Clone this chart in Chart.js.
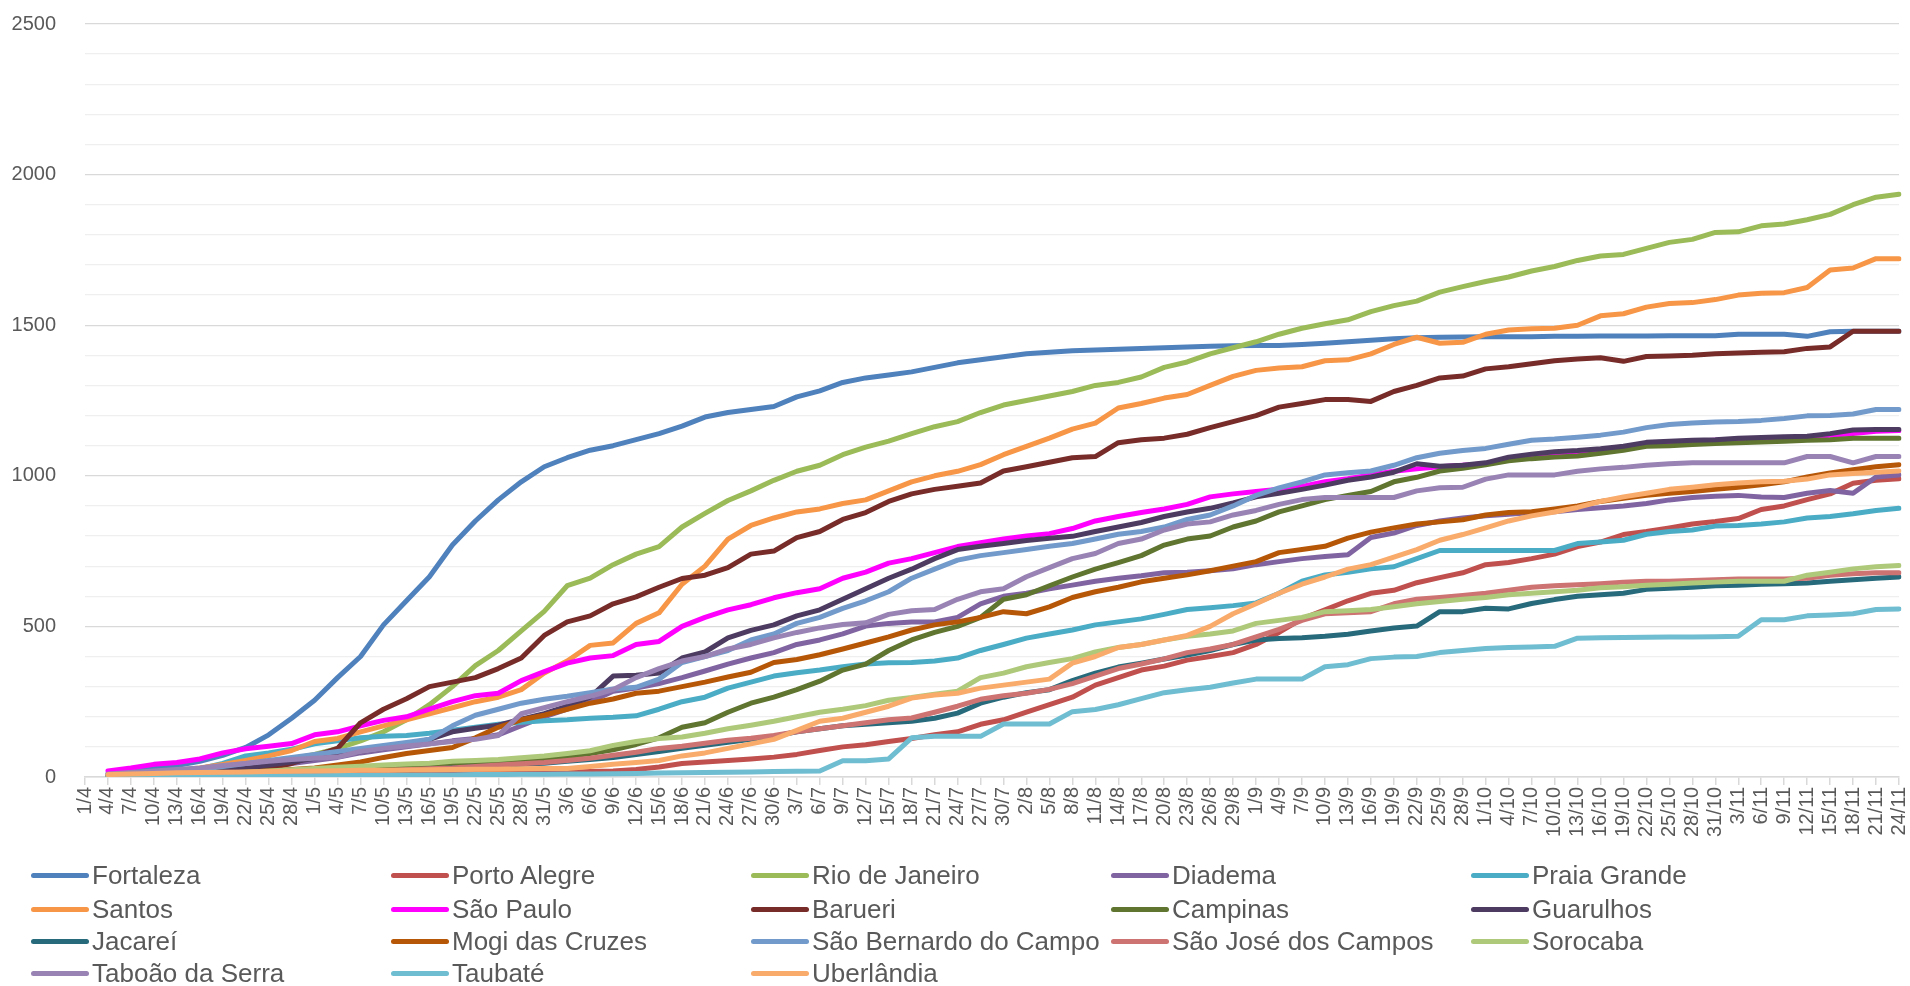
<!DOCTYPE html>
<html>
<head>
<meta charset="utf-8">
<script src="https://cdn.jsdelivr.net/npm/chart.js@4.4.0/dist/chart.umd.min.js"></script>
<style>
	html, body { margin: 0; padding: 0; background: #fff; }
	#wrap { position: relative; width: 1910px; height: 986px; overflow: hidden; }
	#grafico { position: absolute; left: 0; top: 0; }
	#legenda { position: absolute; left: 0; top: 0; width: 1910px; height: 986px;
		font-family: 'Liberation Sans', Arial, sans-serif; font-size: 26px; color: #595959; }
	.item { position: absolute; height: 30px; line-height: 30px; white-space: nowrap; }
	.amostra { position: absolute; left: 0; top: 13px; width: 58px; height: 5px; border-radius: 3px; }
	.nome { position: absolute; left: 61px; top: 0; }
</style>
</head>
<body>
<div id="wrap">
	<canvas id="grafico" width="1910" height="850"></canvas>
	<div id="legenda"></div>
</div>
<script>
var dias = ['1/4','4/4','7/4','10/4','13/4','16/4','19/4','22/4','25/4','28/4',
	'1/5','4/5','7/5','10/5','13/5','16/5','19/5','22/5','25/5','28/5','31/5',
	'3/6','6/6','9/6','12/6','15/6','18/6','21/6','24/6','27/6','30/6',
	'3/7','6/7','9/7','12/7','15/7','18/7','21/7','24/7','27/7','30/7',
	'2/8','5/8','8/8','11/8','14/8','17/8','20/8','23/8','26/8','29/8',
	'1/9','4/9','7/9','10/9','13/9','16/9','19/9','22/9','25/9','28/9',
	'1/10','4/10','7/10','10/10','13/10','16/10','19/10','22/10','25/10','28/10','31/10',
	'3/11','6/11','9/11','12/11','15/11','18/11','21/11','24/11']

var fortaleza = [null,10,20,28,38,52,72,98,140,195,255,330,400,505,585,665,770,850,920,980,1030,1060,1085,1100,1120,1140,1165,1195,1210,1220,1230,1262,1282,1310,1325,1335,1345,1360,1375,1385,1395,1405,1410,1415,1418,1420,1423,1425,1428,1430,1432,1433,1433,1436,1440,1445,1450,1455,1458,1460,1461,1462,1462,1462,1463,1463,1464,1464,1464,1465,1465,1465,1470,1470,1470,1463,1478,1480,1480,1480]
var portoAlegre = [null,1,1,2,2,3,3,4,4,5,5,5,6,7,8,9,10,11,12,13,14,16,18,20,25,33,45,50,55,60,66,75,88,100,107,118,128,140,150,175,190,215,240,265,305,330,355,368,388,400,413,440,480,525,555,585,610,620,645,662,678,705,712,725,740,765,780,805,815,827,840,848,858,888,900,921,940,975,985,990]
var rioDeJaneiro = [null,3,5,8,12,18,25,35,48,60,75,95,120,150,190,240,300,370,420,485,550,635,660,705,740,765,830,875,918,950,985,1015,1035,1070,1095,1115,1140,1163,1180,1210,1235,1250,1265,1280,1300,1310,1328,1360,1378,1405,1425,1445,1470,1490,1505,1518,1545,1565,1580,1610,1628,1645,1660,1680,1695,1715,1730,1735,1755,1775,1785,1808,1810,1830,1836,1850,1868,1900,1925,1935]
var diadema = [null,3,5,8,10,15,20,28,35,45,55,65,80,90,100,110,120,128,140,170,200,225,250,285,295,310,330,352,375,395,413,440,455,475,501,510,515,515,530,575,600,610,625,637,650,660,668,678,680,685,691,705,715,725,732,738,795,810,835,850,860,867,872,878,881,888,894,900,908,920,928,932,935,930,928,942,951,942,996,1003]
var praiaGrande = [null,5,8,12,18,28,45,70,80,92,110,120,130,135,138,145,155,165,175,182,187,190,195,198,203,225,250,265,295,315,335,346,355,366,375,379,380,385,395,420,440,461,475,488,505,515,525,540,556,562,569,578,610,650,671,680,691,698,725,752,752,752,752,752,752,775,780,786,806,815,820,833,835,840,847,860,865,874,885,892]
var santos = [null,5,10,15,22,30,42,55,70,88,118,128,150,170,190,210,230,250,265,290,345,385,437,445,510,545,640,700,790,835,860,880,890,908,920,950,980,1000,1015,1037,1070,1098,1125,1155,1175,1225,1240,1258,1270,1300,1330,1350,1358,1362,1382,1385,1405,1436,1460,1440,1443,1470,1484,1488,1490,1500,1531,1538,1560,1572,1575,1585,1600,1606,1608,1625,1683,1690,1721,1721]
var saoPaulo = [null,20,30,42,48,60,80,94,102,111,140,150,170,188,200,225,250,270,278,320,350,378,395,403,440,450,500,530,555,572,595,612,625,660,680,710,725,745,765,778,790,800,808,825,850,865,878,890,905,930,940,948,955,965,980,990,1003,1015,1023,1030,1035,1040,1058,1068,1075,1080,1085,1092,1105,1110,1115,1118,1120,1122,1125,1128,1135,1140,1148,1150]
var barueri = [null,2,4,6,8,12,16,22,30,45,70,95,180,225,260,300,315,330,360,395,470,515,535,575,598,630,659,670,695,740,750,795,815,855,878,915,940,955,965,976,1016,1030,1045,1060,1064,1110,1120,1125,1138,1160,1180,1200,1228,1240,1253,1253,1247,1280,1300,1325,1331,1355,1362,1372,1382,1388,1392,1380,1396,1398,1400,1405,1408,1410,1412,1423,1428,1480,1480,1480]
var campinas = [null,2,3,5,7,10,12,15,18,20,22,25,28,30,33,36,40,45,50,55,60,68,78,90,108,130,165,180,215,245,265,290,318,355,375,420,455,480,500,530,590,605,635,664,690,712,735,770,790,800,830,850,880,900,921,935,948,980,995,1016,1025,1037,1050,1057,1062,1066,1075,1085,1098,1100,1104,1107,1110,1112,1115,1118,1120,1125,1125,1125]
var guarulhos = [null,3,5,8,12,16,22,30,40,50,62,75,85,95,110,125,150,162,172,192,210,235,265,335,338,345,395,415,462,487,505,535,555,590,625,660,690,725,755,766,775,785,793,799,815,830,845,865,880,892,910,930,942,955,969,985,996,1012,1040,1032,1035,1043,1062,1072,1080,1084,1090,1098,1111,1115,1118,1120,1125,1127,1130,1131,1140,1152,1154,1154]
var jacarei = [null,1,2,3,4,5,6,8,10,12,14,16,18,20,23,26,30,34,38,42,46,52,58,65,75,85,95,105,115,125,135,150,160,170,175,180,185,195,212,245,265,280,290,320,345,365,378,392,405,420,440,455,460,462,467,474,485,495,501,549,549,560,558,576,589,600,605,610,623,627,630,635,637,640,642,644,650,655,660,664]
var mogi = [null,2,4,6,8,10,13,16,20,25,30,40,50,65,78,88,98,130,165,190,205,225,245,259,278,285,300,315,332,348,380,390,406,425,445,465,488,505,515,530,549,542,565,596,615,630,648,660,671,685,700,715,745,755,766,793,813,827,840,847,854,870,878,881,890,900,915,925,935,942,948,955,962,970,980,996,1009,1020,1030,1037]
var saoBernardo = [null,5,10,15,20,25,35,45,55,65,75,85,95,105,115,125,170,205,225,245,258,268,280,292,298,325,380,400,420,455,475,510,530,560,585,615,660,690,720,735,745,755,766,775,790,806,815,830,855,870,900,935,960,980,1003,1010,1016,1035,1060,1075,1084,1091,1105,1118,1122,1128,1135,1145,1160,1170,1175,1179,1180,1184,1190,1199,1200,1205,1220,1220]
var saoJose = [null,1,2,3,4,5,7,9,11,13,15,17,19,21,24,27,30,35,40,44,48,55,62,72,82,95,102,112,122,129,138,150,160,170,180,190,196,215,235,258,270,278,291,310,335,360,375,392,413,425,440,465,490,520,542,545,549,575,590,596,603,610,620,630,635,638,642,647,650,650,652,655,657,657,657,660,670,675,678,678]
var sorocaba = [null,2,4,6,8,10,13,16,20,24,28,32,36,40,43,46,52,55,58,64,70,78,87,105,118,128,133,145,160,172,185,200,215,225,237,255,264,275,285,330,345,366,380,393,415,430,440,455,467,475,485,510,520,530,549,552,556,565,575,583,590,596,605,610,615,620,628,632,637,640,644,647,650,650,650,670,680,691,698,702]
var taboao = [null,10,15,20,25,30,38,45,52,58,62,66,85,95,103,110,118,125,138,210,230,250,268,290,330,360,385,400,425,440,462,480,495,506,512,540,552,556,590,615,625,665,695,725,742,775,790,820,840,847,870,885,905,921,928,928,928,928,950,960,962,989,1003,1003,1003,1015,1023,1028,1035,1040,1043,1043,1043,1043,1043,1064,1064,1043,1064,1064]
var taubate = [null,0,0,1,1,2,2,3,3,4,4,5,5,6,6,7,7,8,8,9,9,10,10,11,12,13,14,15,16,17,18,19,20,54,54,60,130,135,135,135,176,176,176,217,224,240,260,280,290,298,312,325,325,325,366,373,393,398,400,413,420,427,430,432,434,461,462,463,464,465,465,466,467,522,522,535,538,542,556,558]
var uberlandia = [null,8,10,12,14,15,16,17,18,19,20,21,22,22,23,24,25,26,26,27,28,28,35,42,48,55,70,80,95,110,125,155,185,195,215,235,262,272,278,295,305,315,325,378,400,430,440,455,470,500,542,575,610,640,664,690,705,730,755,786,805,827,850,867,880,895,915,930,942,955,962,970,976,980,982,989,1003,1008,1012,1016]

var cidades = ['Fortaleza', 'Porto Alegre', 'Rio de Janeiro', 'Diadema', 'Praia Grande',
	'Santos', 'São Paulo', 'Barueri', 'Campinas', 'Guarulhos',
	'Jacareí', 'Mogi das Cruzes', 'São Bernardo do Campo', 'São José dos Campos', 'Sorocaba',
	'Taboão da Serra', 'Taubaté', 'Uberlândia']
var series = [fortaleza, portoAlegre, rioDeJaneiro, diadema, praiaGrande,
	santos, saoPaulo, barueri, campinas, guarulhos,
	jacarei, mogi, saoBernardo, saoJose, sorocaba,
	taboao, taubate, uberlandia]
var cores = ['#4f81bd', '#c0504d', '#9bbb59', '#8064a2', '#4bacc6',
	'#f79646', '#ff00ff', '#772c2a', '#5f7530', '#4d3b62',
	'#276a7c', '#b65708', '#729aca', '#cd7371', '#afc97a',
	'#9983b5', '#6fbdd1', '#f9ab6b']

Chart.defaults.font.family = "'Liberation Sans', Arial, sans-serif"

function montaDatasets() {
	var ds = []
	for (var i = 0; i < cidades.length; i++) {
		ds.push({
			label: cidades[i],
			data: series[i],
			borderColor: cores[i],
			backgroundColor: cores[i],
			borderWidth: 5,
			pointRadius: 0,
			tension: 0,
			borderJoinStyle: 'round',
			borderCapStyle: 'round',
			// later series on top, as in the spreadsheet
			order: -i
		})
	}
	return ds
}

function montaLegenda() {
	var caixa = document.getElementById('legenda')
	var linhas = [875, 909, 941, 973]
	for (var i = 0; i < cidades.length; i++) {
		var col = i % 5
		var lin = Math.floor(i / 5)
		var item = document.createElement('div')
		item.className = 'item'
		item.style.left = (31 + col * 360) + 'px'
		item.style.top = (linhas[lin] - 15) + 'px'
		var amostra = document.createElement('span')
		amostra.className = 'amostra'
		amostra.style.background = cores[i]
		var nome = document.createElement('span')
		nome.className = 'nome'
		nome.textContent = cidades[i]
		item.appendChild(amostra)
		item.appendChild(nome)
		caixa.appendChild(item)
	}
}

var ctx = document.getElementById('grafico').getContext('2d')
var grafico = new Chart(ctx, {
	type: 'line',
	data: { labels: dias, datasets: montaDatasets() },
	options: {
		responsive: false,
		animation: false,
		layout: { padding: { top: 24, right: 11, left: 0, bottom: 0 } },
		plugins: { legend: { display: false }, tooltip: { enabled: false } },
		scales: {
			x: {
				grid: { drawOnChartArea: false, drawTicks: true, tickLength: 8, color: '#d9d9d9', lineWidth: 1.5 },
				border: { color: '#d9d9d9', width: 1.5 },
				ticks: { autoSkip: false, maxRotation: 90, minRotation: 90, padding: 2, color: '#595959', font: { size: 20 } },
				afterFit: function(scale) {
					scale.height = 73
					scale.paddingLeft = 0
					scale.paddingRight = 0
				}
			},
			y: {
				min: 0,
				max: 2500,
				grid: {
					drawTicks: false,
					lineWidth: 1.3,
					color: function(c) { return c.tick && c.tick.value % 500 === 0 ? '#d9d9d9' : '#efefef' }
				},
				border: { display: false },
				ticks: {
					stepSize: 100,
					autoSkip: false,
					padding: 29,
					color: '#595959',
					font: { size: 20 },
					callback: function(v) { return v % 500 === 0 ? v : '' }
				},
				afterFit: function(scale) {
					scale.width = 85
					scale.paddingTop = 0
					scale.paddingBottom = 0
				}
			}
		}
	}
})

montaLegenda()
</script>
</body>
</html>
